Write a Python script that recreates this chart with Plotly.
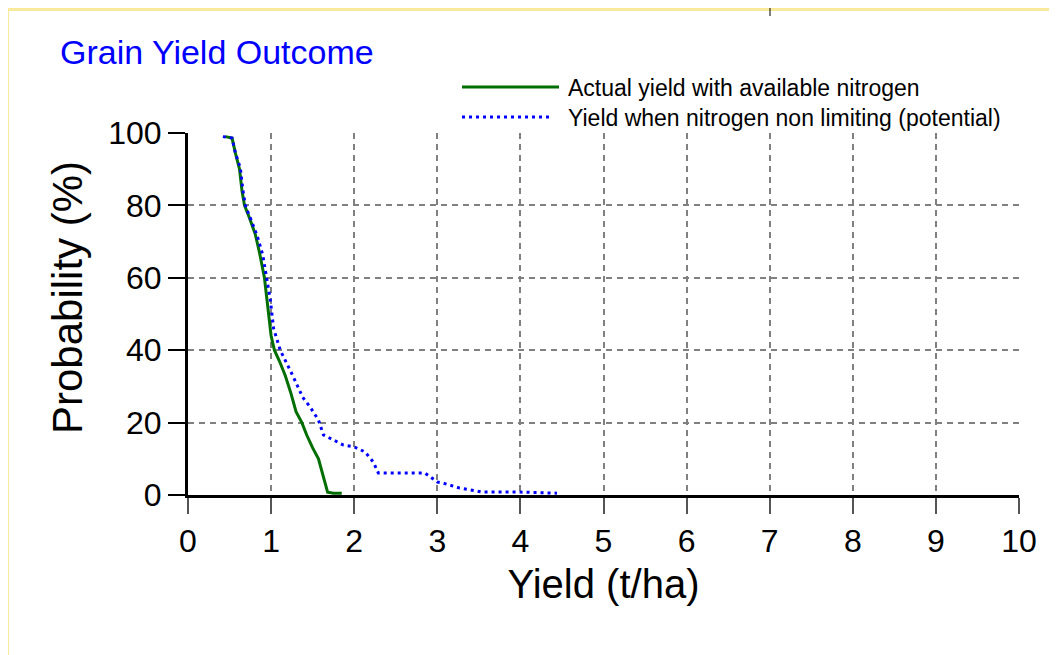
import plotly.graph_objects as go

# ---------------- data ----------------
title_text = "Grain Yield Outcome"
x_title = "Yield (t/ha)"
y_title = "Probability (%)"
series_names = ["Actual yield with available nitrogen",
                "Yield when nitrogen non limiting (potential)"]
x_ticks = [0, 1, 2, 3, 4, 5, 6, 7, 8, 9, 10]
y_ticks = [0, 20, 40, 60, 80, 100]
grid_x = [1, 2, 3, 4, 5, 6, 7, 8, 9]
grid_y = [20, 40, 60, 80]

actual_yield = [0.45, 0.53, 0.57, 0.62, 0.65, 0.68, 0.74, 0.81, 0.86, 0.92, 0.96,
                1.00, 1.04, 1.10, 1.17, 1.24, 1.30, 1.37, 1.43, 1.50, 1.57, 1.62,
                1.65, 1.68, 1.75, 1.85]
actual_prob = [99, 98.6, 94.5, 90, 84, 80, 76.5, 72, 67, 60, 52,
               44, 40, 37, 33, 28, 23, 20, 16.5, 13, 10, 6,
               3, 0.8, 0.5, 0.5]

potential_yield = [0.42, 0.53, 0.57, 0.63, 0.66, 0.69, 0.75, 0.83, 0.90, 0.95, 0.99,
                   1.03, 1.11, 1.26, 1.38, 1.47, 1.57, 1.63, 1.71, 1.87, 2.00,
                   2.13, 2.23, 2.29, 2.50, 2.85, 3.00, 3.07, 3.27, 3.55, 4.00, 4.44]
potential_prob = [99, 98.6, 94.5, 90.3, 84.3, 80, 76.5, 71.8, 66.3, 60, 54,
                  46, 40, 33, 27, 24.3, 20.7, 16.6, 15.7, 13.8, 13.3,
                  11.9, 9.1, 6.1, 6.1, 6.1, 3.6, 3.3, 1.9, 0.8, 0.8, 0.5]

# ---------------- layout geometry ----------------
# the page places the figure 8px from the window's top-left corner
OFF = 8
W, H = 1057, 655
L, T = 188 - OFF, 133 - OFF          # plot area left / top (figure px)
R = W - (1019 - OFF)                 # right margin
B = H - (495 - OFF)                  # bottom margin
PW, PH = W - L - R, H - T - B


def pxx(px):
    """window x pixel -> paper x"""
    return (px - OFF - L) / PW


def pxy(py):
    """window y pixel -> paper y"""
    return (H - B - (py - OFF)) / PH


GREEN = "#006E00"
BLUE = "#0000FF"
FONT = "Liberation Sans, Arial, sans-serif"
DOTS = "3px,4px"

fig = go.Figure()
fig.add_trace(go.Scatter(x=actual_yield, y=actual_prob, mode="lines",
                         name=series_names[0], showlegend=False,
                         line=dict(color=GREEN, width=3)))
fig.add_trace(go.Scatter(x=potential_yield, y=potential_prob, mode="lines",
                         name=series_names[1], showlegend=False,
                         line=dict(color=BLUE, width=3, dash=DOTS)))
# empty trace that carries the grid-only axes
fig.add_trace(go.Scatter(x=[], y=[], xaxis="x2", yaxis="y2", showlegend=False,
                         hoverinfo="skip"))

grid_style = dict(showgrid=True, gridcolor="#808080", gridwidth=2,
                  griddash="6px,5px", showticklabels=False, ticks="",
                  showline=False, zeroline=False)

fig.update_layout(
    width=W, height=H,
    margin=dict(l=L, r=R, t=T, b=B),
    paper_bgcolor="#F9EA9B",
    plot_bgcolor="white",
    font=dict(family=FONT, color="black"),
    showlegend=False,
    title=dict(text=title_text, x=(60 - OFF) / W, xanchor="left", xref="container",
               y=1 - (52 - OFF) / H, yanchor="middle", yref="container",
               font=dict(size=34, color=BLUE, family=FONT)),
    xaxis=dict(range=[0, 10], tickvals=x_ticks, ticks="outside", ticklen=16,
               tickwidth=2, tickcolor="#555555", showline=True, linewidth=3,
               linecolor="black", showgrid=False, zeroline=False,
               tickfont=dict(size=32, color="black"),
               title=dict(text=x_title, font=dict(size=40), standoff=12)),
    yaxis=dict(range=[0, 100], tickvals=y_ticks, ticks="outside", ticklen=17,
               tickwidth=1.5, tickcolor="black", showline=True, linewidth=3,
               linecolor="black", showgrid=False, zeroline=False,
               tickfont=dict(size=32, color="black")),
    xaxis2=dict(overlaying="x", range=[0, 10], tickvals=grid_x, **grid_style),
    yaxis2=dict(overlaying="y", range=[0, 100], tickvals=grid_y, **grid_style),
)

# y-axis title (placed slightly above the axis centre, as in the original)
fig.add_annotation(xref="paper", yref="paper", x=pxx(67), y=pxy(298),
                   xanchor="center", yanchor="middle", textangle=-90,
                   showarrow=False, text=y_title,
                   font=dict(size=42, color="black", family=FONT))

# white panel inside the yellow frame
fig.add_shape(type="rect", xref="paper", yref="paper",
              x0=pxx(9), x1=pxx(W + 20), y0=pxy(H + 20), y1=pxy(11),
              fillcolor="white", line=dict(width=0), layer="below")
# small stray mark on the top edge
fig.add_shape(type="line", xref="paper", yref="paper",
              x0=pxx(770), x1=pxx(770), y0=pxy(8), y1=pxy(16),
              line=dict(color="black", width=1))

# manual legend
legend_rows = [(87, GREEN, "solid", 559), (117, BLUE, DOTS, 551)]
for (py, col, dash, xend), name in zip(legend_rows, series_names):
    fig.add_shape(type="line", xref="paper", yref="paper",
                  x0=pxx(462), x1=pxx(xend), y0=pxy(py), y1=pxy(py),
                  line=dict(color=col, width=3, dash=dash))
    fig.add_annotation(xref="paper", yref="paper", x=pxx(566), y=pxy(py + 1),
                       xanchor="left", yanchor="middle", showarrow=False,
                       text=name, font=dict(size=23, color="black", family=FONT))

fig.write_html("out.html")
